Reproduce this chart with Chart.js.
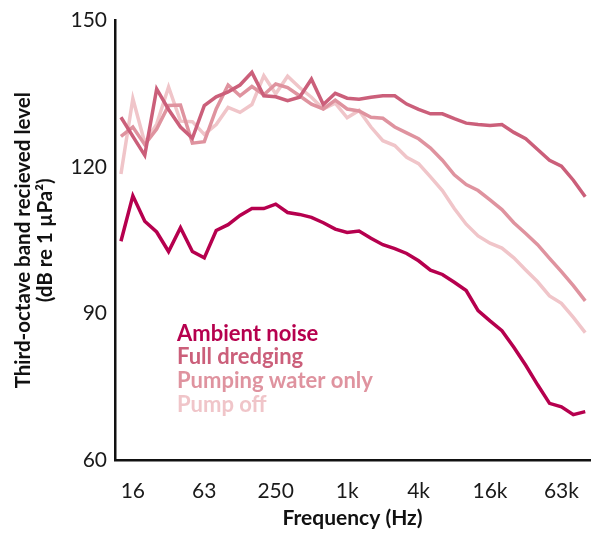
<!DOCTYPE html>
<html>
<head>
<meta charset="utf-8">
<script src="https://cdn.jsdelivr.net/npm/chart.js@4/dist/chart.umd.min.js"></script>
<style>
  html, body { margin: 0; padding: 0; background: #fff; }
  #wrap { width: 600px; height: 535px; }
</style>
</head>
<body>
<div id="wrap"><canvas id="spectrum"></canvas></div>
<script>
// third-octave band centres, 12.5 Hz .. 100 kHz
const bands = [
  '12.5', '16', '20', '25', '31.5', '40', '50', '63', '80', '100',
  '125', '160', '200', '250', '315', '400', '500', '630', '800', '1k',
  '1.25k', '1.6k', '2k', '2.5k', '3.15k', '4k', '5k', '6.3k', '8k', '10k',
  '12.5k', '16k', '20k', '25k', '31.5k', '40k', '50k', '63k', '80k', '100k'
];

// bands that get a label on the frequency axis
const tickBands = ['16', '63', '250', '1k', '4k', '16k', '63k'];
const levelTicks = [60, 90, 120, 150];

// received levels, dB re 1 uPa^2
const ambientNoise = [
  104.8, 114.1, 108.9, 106.7, 102.7, 107.6, 102.7, 101.4, 107.0, 108.2,
  110.1, 111.5, 111.5, 112.4, 110.7, 110.3, 109.7, 108.6, 107.3, 106.6,
  106.9, 105.4, 104.1, 103.3, 102.3, 100.8, 98.9, 98.0, 96.4, 94.7,
  90.6, 88.5, 86.5, 83.1, 79.4, 75.4, 71.6, 70.9, 69.3, 69.9
];
const fullDredging = [
  130.2, 126.3, 122.4, 136.0, 131.8, 128.2, 125.9, 132.6, 134.4, 135.4,
  136.8, 139.4, 134.6, 134.4, 133.6, 134.3, 138.0, 132.8, 135.1, 134.1,
  133.9, 134.3, 134.6, 134.6, 132.9, 131.8, 130.9, 130.9, 129.9, 129.0,
  128.7, 128.5, 128.7, 127.1, 125.8, 123.6, 121.4, 120.2, 117.3, 113.9
];
const pumpingWater = [
  126.3, 128.2, 124.6, 127.8, 132.6, 132.7, 124.9, 125.2, 131.9, 136.8,
  134.6, 136.5, 134.8, 137.0, 136.3, 134.6, 132.9, 131.9, 133.7, 131.9,
  131.5, 130.2, 130.0, 128.2, 127.0, 125.8, 123.9, 121.4, 118.4, 116.4,
  115.2, 113.3, 111.3, 108.6, 106.4, 104.1, 101.3, 98.6, 95.7, 92.6
];
const pumpOff = [
  118.6, 134.0, 125.0, 128.8, 136.4, 129.4, 129.3, 126.7, 128.7, 132.2,
  131.2, 132.8, 138.7, 135.0, 138.6, 136.3, 134.3, 131.9, 133.1, 130.1,
  131.6, 128.2, 125.4, 124.4, 122.0, 120.7, 118.0, 115.2, 111.5, 108.3,
  105.9, 104.4, 103.4, 101.4, 98.9, 96.5, 93.6, 92.1, 89.2, 86.1
];

const seriesNames = ['Ambient noise', 'Full dredging', 'Pumping water only', 'Pump off'];
const seriesColors = ['#b6004e', '#cb5f7a', '#df939f', '#f0c5c9'];

const FONT = 'Lato, "Open Sans", sans-serif';

const toPoints = (vals) => vals.map((v, i) => ({ x: i, y: v }));

// text legend sitting inside the plot, below the curves
const textLegend = {
  id: 'textLegend',
  afterDatasetsDraw(chart) {
    const { ctx, chartArea } = chart;
    ctx.save();
    ctx.font = 'bold 22px ' + FONT;
    ctx.textAlign = 'left';
    ctx.textBaseline = 'middle';
    chart.data.datasets.forEach((ds, i) => {
      ctx.fillStyle = ds.borderColor;
      ctx.fillText(ds.label, chartArea.left + 62, chartArea.top + 313 + i * 23.7);
    });
    ctx.restore();
  }
};

// ambient noise drawn on top, pump off underneath
const datasets = [ambientNoise, fullDredging, pumpingWater, pumpOff].map((vals, i) => ({
  label: seriesNames[i],
  data: toPoints(vals),
  borderColor: seriesColors[i],
  backgroundColor: seriesColors[i],
  borderWidth: 3.5,
  pointRadius: 0,
  tension: 0,
  order: i
}));

const ctx = document.getElementById('spectrum').getContext('2d');
new Chart(ctx, {
  type: 'line',
  data: { datasets },
  options: {
    responsive: true,
    maintainAspectRatio: false,
    animation: false,
    layout: { padding: { left: 0, top: 18, right: 10, bottom: 0 } },
    plugins: {
      legend: { display: false },
      tooltip: { enabled: false }
    },
    scales: {
      x: {
        type: 'linear',
        min: -0.5,
        max: 39.4,
        grid: { display: false, drawTicks: false },
        border: { display: true, color: '#111', width: 2.5 },
        afterBuildTicks: (scale) => {
          scale.ticks = tickBands.map(b => ({ value: bands.indexOf(b) }));
        },
        afterFit: (scale) => { scale.height = 75; },
        ticks: {
          padding: 19,
          color: '#1a1a1a',
          font: { family: FONT, size: 21 },
          maxRotation: 0,
          autoSkip: false,
          callback: (value) => bands[value]
        },
        title: {
          display: true,
          text: 'Frequency (Hz)',
          color: '#111',
          font: { family: FONT, size: 21, weight: 'bold', lineHeight: 1.1 },
          padding: { top: 0, bottom: 5 }
        }
      },
      y: {
        min: 60,
        max: 150,
        grid: { display: false, drawTicks: false },
        border: { display: true, color: '#111', width: 2.5 },
        afterBuildTicks: (scale) => {
          scale.ticks = levelTicks.map(v => ({ value: v }));
        },
        afterFit: (scale) => { scale.width = 115; },
        ticks: {
          padding: 8,
          color: '#1a1a1a',
          font: { family: FONT, size: 21 }
        },
        title: {
          display: true,
          text: ['Third-octave band recieved level', '(dB re 1 \u00b5Pa\u00b2)'],
          color: '#111',
          font: { family: FONT, size: 20.5, weight: 'bold', lineHeight: 1.05 },
          padding: { top: 13, bottom: 0 }
        }
      }
    }
  },
  plugins: [textLegend]
});
</script>
</body>
</html>
